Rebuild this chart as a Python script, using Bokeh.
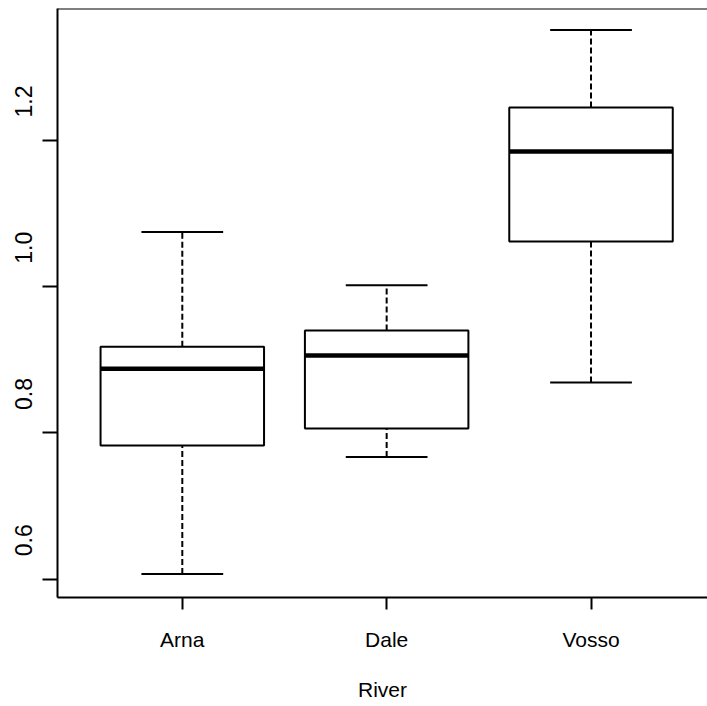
import math
from bokeh.plotting import figure
from bokeh.models import (ColumnDataSource, FixedTicker, Span, Range1d, LinearAxis,
                          CustomLabelingPolicy)
from bokeh.embed import file_html
from bokeh.resources import INLINE

# ---- data ----
rivers = ["Arna", "Dale", "Vosso"]
lower_whisker = [0.607, 0.767, 0.869]
q1 = [0.783, 0.806, 1.062]
median = [0.888, 0.906, 1.185]
q3 = [0.918, 0.940, 1.245]
upper_whisker = [1.075, 1.002, 1.351]

y_ticks = [0.6, 0.8, 1.0, 1.2]
y_tick_labels = ["0.6", "0.8", "1.0", "1.2"]
x_label = "River"

# ---- geometry helpers ----
positions = [i + 1 for i in range(len(rivers))]
box_half = 0.4
cap_half = 0.2

src = ColumnDataSource(dict(
    x=positions,
    left=[x - box_half for x in positions],
    right=[x + box_half for x in positions],
    cap_l=[x - cap_half for x in positions],
    cap_r=[x + cap_half for x in positions],
    lo=lower_whisker, q1=q1, med=median, q3=q3, hi=upper_whisker,
))

FONT = "Liberation Sans"

x_start, x_end = 0.3893, 3.570
y_start, y_end = 0.575, 1.3805
FRAME_H = 706 - 8 - 109
LABEL_SHIFT_PX = 55  # y tick labels sit above their ticks in the reference
label_shift = LABEL_SHIFT_PX * (y_end - y_start) / FRAME_H

p = figure(width=707, height=706, output_backend="svg", toolbar_location=None,
           x_range=Range1d(x_start, x_end), y_range=Range1d(y_start, y_end),
           min_border_left=57, min_border_right=0, min_border_top=8,
           min_border_bottom=109)
p.background_fill_color = "white"
p.border_fill_color = "white"
p.outline_line_color = None
p.xgrid.visible = False
p.ygrid.visible = False

# whiskers (dashed)
p.segment(x0="x", x1="x", y0="q3", y1="hi", source=src, line_color="black",
          line_width=2, line_dash="6 3")
p.segment(x0="x", x1="x", y0="lo", y1="q1", source=src, line_color="black",
          line_width=2, line_dash="6 3")
# caps
p.segment(x0="cap_l", x1="cap_r", y0="hi", y1="hi", source=src,
          line_color="black", line_width=2)
p.segment(x0="cap_l", x1="cap_r", y0="lo", y1="lo", source=src,
          line_color="black", line_width=2)
# boxes
p.quad(left="left", right="right", bottom="q1", top="q3", source=src,
       fill_color="white", line_color="black", line_width=2)
# medians
p.segment(x0="left", x1="right", y0="med", y1="med", source=src,
          line_color="black", line_width=4.5)

# top frame edge
p.add_layout(Span(location=y_end, dimension="width", line_color="black",
                  line_width=2))

# x axis
xa = p.xaxis[0]
xa.ticker = FixedTicker(ticks=positions)
xa.major_label_overrides = {x: r for x, r in zip(positions, rivers)}
xa.minor_tick_line_color = None
xa.major_tick_in = 0
xa.major_tick_out = 12
xa.major_tick_line_width = 2
xa.axis_line_width = 2
xa.axis_line_color = "black"
xa.major_label_text_font = FONT
xa.major_label_text_font_size = "21px"
xa.major_label_text_color = "black"
xa.major_label_standoff = 18
xa.axis_label = x_label
xa.axis_label_text_font = FONT
xa.axis_label_text_font_size = "21px"
xa.axis_label_text_font_style = "normal"
xa.axis_label_text_color = "black"
xa.axis_label_standoff = 24

# y axis: ticks + line only (no labels drawn)
ya = p.yaxis[0]
ya.ticker = FixedTicker(ticks=y_ticks)
ya.major_label_policy = CustomLabelingPolicy(code="return []")
ya.major_label_text_font_size = "1px"
ya.major_label_standoff = 0
ya.minor_tick_line_color = None
ya.major_tick_in = 0
ya.major_tick_out = 15
ya.major_tick_line_width = 2
ya.axis_line_width = 2
ya.axis_line_color = "black"

# outer y axis carrying only the rotated labels, raised as in the reference
label_ticks = [t + label_shift for t in y_ticks]
yl = LinearAxis(ticker=FixedTicker(ticks=label_ticks))
yl.major_label_overrides = {lt: lab for lt, lab in zip(label_ticks, y_tick_labels)}
yl.axis_line_color = None
yl.major_tick_line_color = None
yl.minor_tick_line_color = None
yl.major_tick_in = 0
yl.major_tick_out = 0
yl.major_label_orientation = math.pi / 2
yl.major_label_text_font = FONT
yl.major_label_text_font_size = "23px"
yl.major_label_text_color = "black"
yl.major_label_standoff = 15
p.add_layout(yl, "left")

open("out.html", "w").write(file_html(p, INLINE))
